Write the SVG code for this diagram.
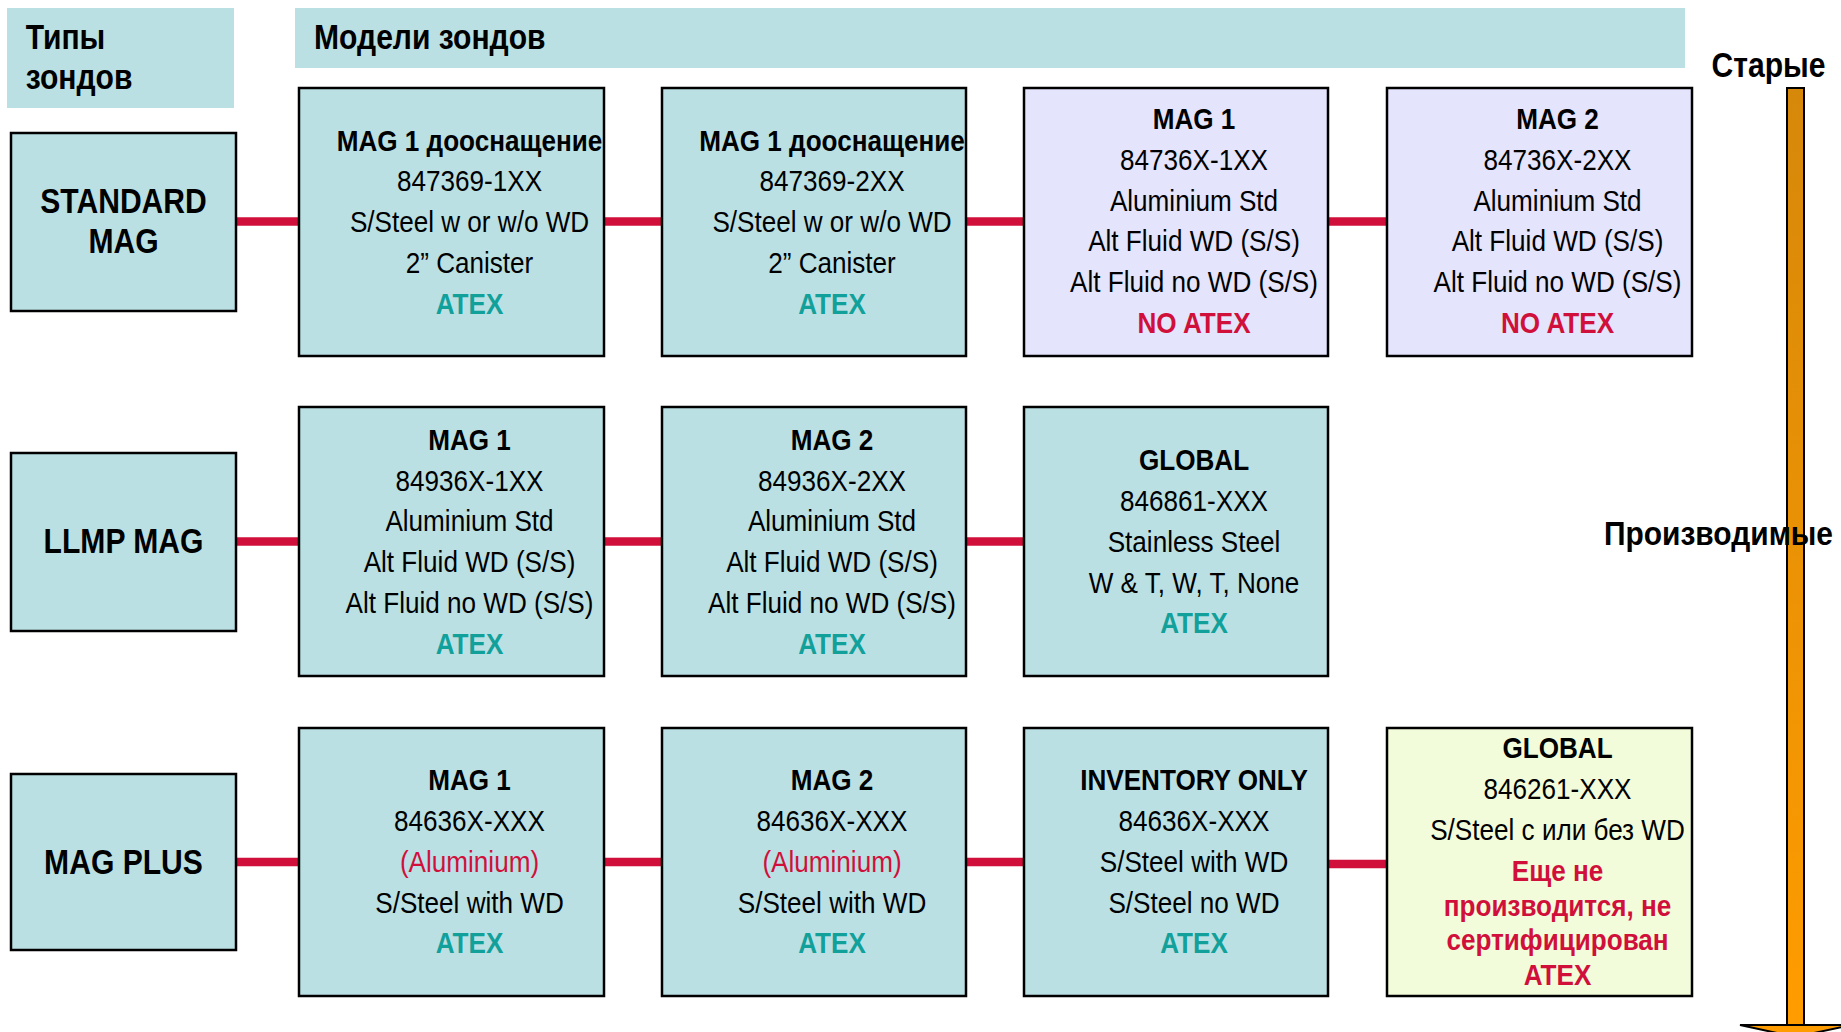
<svg xmlns="http://www.w3.org/2000/svg" width="1841" height="1032" viewBox="0 0 1841 1032">
<defs>
<linearGradient id="og" x1="0" y1="0" x2="0" y2="1">
<stop offset="0" stop-color="#D6880A"/>
<stop offset="1" stop-color="#FF9C00"/>
</linearGradient>
<style>
text{font-family:"Liberation Sans",Arial,sans-serif;font-size:30px;text-anchor:middle;fill:#000}
.b{font-weight:bold}
.l{text-anchor:start}
.big{font-size:35px;font-weight:bold}
.atex{fill:#12A09A;font-weight:bold}
.red{fill:#D0103A}
.hdr{fill:#BAE0E4}
.box{stroke:#000;stroke-width:2.5}
.teal{fill:#BAE0E4}
.lav{fill:#E4E4FC}
.yel{fill:#F3FCDA}
.con{stroke:#D0103A;stroke-width:8.5;fill:none}
</style>
</defs>
<rect width="1841" height="1032" fill="#fff"/>

<g id="hdr-types">
<rect class="hdr" x="7" y="8" width="227" height="100"/>
<g transform="translate(25.7,0) scale(0.86,1)">
<text class="big l" x="0" y="49.3">Типы</text>
<text class="big l" x="0" y="89.3">зондов</text>
</g>
</g>
<g id="hdr-models">
<rect class="hdr" x="295" y="8" width="1390" height="60"/>
<g transform="translate(314,0) scale(0.86,1)">
<text class="big l" x="0" y="49.3">Модели зондов</text>
</g>
</g>

<g id="connectors">
<line class="con" x1="236" y1="221.5" x2="299" y2="221.5"/>
<line class="con" x1="604" y1="221.5" x2="662" y2="221.5"/>
<line class="con" x1="966" y1="221.5" x2="1024" y2="221.5"/>
<line class="con" x1="1328" y1="221.5" x2="1387" y2="221.5"/>
<line class="con" x1="236" y1="541.5" x2="299" y2="541.5"/>
<line class="con" x1="604" y1="541.5" x2="662" y2="541.5"/>
<line class="con" x1="966" y1="541.5" x2="1024" y2="541.5"/>
<line class="con" x1="236" y1="862" x2="299" y2="862"/>
<line class="con" x1="604" y1="862" x2="662" y2="862"/>
<line class="con" x1="966" y1="862" x2="1024" y2="862"/>
<line class="con" x1="1328" y1="864" x2="1387" y2="864"/>
</g>

<g id="type-standard">
<rect class="box teal" x="11" y="133" width="225" height="178"/>
<g transform="translate(123.5,0) scale(0.86,1)">
<text class="big" x="0" y="213.3">STANDARD</text>
<text class="big" x="0" y="253.3">MAG</text>
</g>
</g>
<g id="type-llmp">
<rect class="box teal" x="11" y="453" width="225" height="178"/>
<g transform="translate(123.5,0) scale(0.86,1)">
<text class="big" x="0" y="553.3">LLMP MAG</text>
</g>
</g>
<g id="type-plus">
<rect class="box teal" x="11" y="774" width="225" height="176"/>
<g transform="translate(123.5,0) scale(0.86,1)">
<text class="big" x="0" y="874">MAG PLUS</text>
</g>
</g>

<!-- Row 1 -->
<g id="r1c1">
<rect class="box teal" x="299" y="88" width="305" height="268"/>
<g transform="translate(469.5,0) scale(0.87,1)">
<text class="b" x="0" y="150.7">MAG 1 дооснащение</text>
<text x="0" y="191.5">847369-1XX</text>
<text x="0" y="232.3">S/Steel w or w/o WD</text>
<text x="0" y="273">2” Canister</text>
<text class="atex" x="0" y="313.7">ATEX</text>
</g>
</g>
<g id="r1c2">
<rect class="box teal" x="662" y="88" width="304" height="268"/>
<g transform="translate(832,0) scale(0.87,1)">
<text class="b" x="0" y="150.7">MAG 1 дооснащение</text>
<text x="0" y="191.5">847369-2XX</text>
<text x="0" y="232.3">S/Steel w or w/o WD</text>
<text x="0" y="273">2” Canister</text>
<text class="atex" x="0" y="313.7">ATEX</text>
</g>
</g>
<g id="r1c3">
<rect class="box lav" x="1024" y="88" width="304" height="268"/>
<g transform="translate(1194,0) scale(0.87,1)">
<text class="b" x="0" y="129.3">MAG 1</text>
<text x="0" y="170">84736X-1XX</text>
<text x="0" y="210.8">Aluminium Std</text>
<text x="0" y="251.5">Alt Fluid WD (S/S)</text>
<text x="0" y="292.3">Alt Fluid no WD (S/S)</text>
<text class="b red" x="0" y="333">NO ATEX</text>
</g>
</g>
<g id="r1c4">
<rect class="box lav" x="1387" y="88" width="305" height="268"/>
<g transform="translate(1557.5,0) scale(0.87,1)">
<text class="b" x="0" y="129.3">MAG 2</text>
<text x="0" y="170">84736X-2XX</text>
<text x="0" y="210.8">Aluminium Std</text>
<text x="0" y="251.5">Alt Fluid WD (S/S)</text>
<text x="0" y="292.3">Alt Fluid no WD (S/S)</text>
<text class="b red" x="0" y="333">NO ATEX</text>
</g>
</g>

<!-- Row 2 -->
<g id="r2c1">
<rect class="box teal" x="299" y="407" width="305" height="269"/>
<g transform="translate(469.5,0) scale(0.87,1)">
<text class="b" x="0" y="450">MAG 1</text>
<text x="0" y="490.8">84936X-1XX</text>
<text x="0" y="531.5">Aluminium Std</text>
<text x="0" y="572.3">Alt Fluid WD (S/S)</text>
<text x="0" y="613">Alt Fluid no WD (S/S)</text>
<text class="atex" x="0" y="653.8">ATEX</text>
</g>
</g>
<g id="r2c2">
<rect class="box teal" x="662" y="407" width="304" height="269"/>
<g transform="translate(832,0) scale(0.87,1)">
<text class="b" x="0" y="450">MAG 2</text>
<text x="0" y="490.8">84936X-2XX</text>
<text x="0" y="531.5">Aluminium Std</text>
<text x="0" y="572.3">Alt Fluid WD (S/S)</text>
<text x="0" y="613">Alt Fluid no WD (S/S)</text>
<text class="atex" x="0" y="653.8">ATEX</text>
</g>
</g>
<g id="r2c3">
<rect class="box teal" x="1024" y="407" width="304" height="269"/>
<g transform="translate(1194,0) scale(0.87,1)">
<text class="b" x="0" y="470.5">GLOBAL</text>
<text x="0" y="511.3">846861-XXX</text>
<text x="0" y="552">Stainless Steel</text>
<text x="0" y="592.8">W &amp; T, W, T, None</text>
<text class="atex" x="0" y="633.5">ATEX</text>
</g>
</g>

<!-- Row 3 -->
<g id="r3c1">
<rect class="box teal" x="299" y="728" width="305" height="268"/>
<g transform="translate(469.5,0) scale(0.87,1)">
<text class="b" x="0" y="790.5">MAG 1</text>
<text x="0" y="831.3">84636X-XXX</text>
<text class="red" x="0" y="872">(Aluminium)</text>
<text x="0" y="912.8">S/Steel with WD</text>
<text class="atex" x="0" y="953.5">ATEX</text>
</g>
</g>
<g id="r3c2">
<rect class="box teal" x="662" y="728" width="304" height="268"/>
<g transform="translate(832,0) scale(0.87,1)">
<text class="b" x="0" y="790.5">MAG 2</text>
<text x="0" y="831.3">84636X-XXX</text>
<text class="red" x="0" y="872">(Aluminium)</text>
<text x="0" y="912.8">S/Steel with WD</text>
<text class="atex" x="0" y="953.5">ATEX</text>
</g>
</g>
<g id="r3c3">
<rect class="box teal" x="1024" y="728" width="304" height="268"/>
<g transform="translate(1194,0) scale(0.87,1)">
<text class="b" x="0" y="790.5">INVENTORY ONLY</text>
<text x="0" y="831.3">84636X-XXX</text>
<text x="0" y="872">S/Steel with WD</text>
<text x="0" y="912.8">S/Steel no WD</text>
<text class="atex" x="0" y="953.5">ATEX</text>
</g>
</g>
<g id="r3c4">
<rect class="box yel" x="1387" y="728" width="305" height="268"/>
<g transform="translate(1557.5,0) scale(0.87,1)">
<text class="b" x="0" y="758.3">GLOBAL</text>
<text x="0" y="799.3">846261-XXX</text>
<text x="0" y="840">S/Steel с или без WD</text>
<text class="b red" x="0" y="881.5">Еще не</text>
<text class="b red" x="0" y="916">производится, не</text>
<text class="b red" x="0" y="950.5">сертифицирован</text>
<text class="b red" x="0" y="985">ATEX</text>
</g>
</g>

<g id="timeline">
<rect x="1787" y="88" width="17" height="938" fill="url(#og)" stroke="#000" stroke-width="2"/>
<polygon points="1740,1025 1851,1025 1795.5,1037" fill="#FF9C00" stroke="#000" stroke-width="2"/>
<g transform="translate(1768.5,0) scale(0.86,1)">
<text class="big" x="0" y="77">Старые</text>
</g>
<text class="b l" x="1604" y="545" style="font-size:33px" textLength="229" lengthAdjust="spacingAndGlyphs">Производимые</text>
</g>
</svg>
